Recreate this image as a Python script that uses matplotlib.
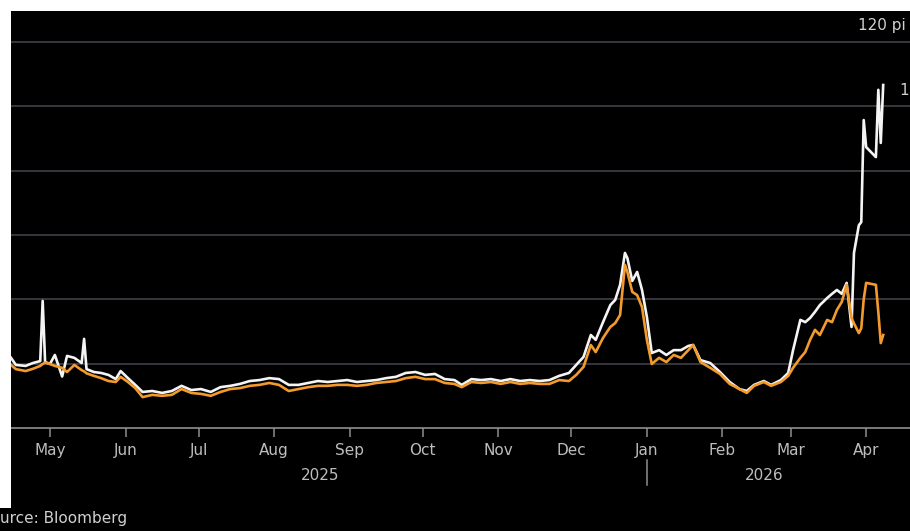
import matplotlib
matplotlib.use("Agg")
import matplotlib.pyplot as plt
import matplotlib.dates as mdates
import matplotlib.transforms as mtransforms
from matplotlib.patches import Rectangle
import pandas as pd


dates = [
    "2025-04-15", "2025-04-17", "2025-04-21", "2025-04-24", "2025-04-27", "2025-04-28",
    "2025-04-29", "2025-05-01", "2025-05-03", "2025-05-06", "2025-05-08", "2025-05-11",
    "2025-05-14", "2025-05-15", "2025-05-16", "2025-05-19", "2025-05-22", "2025-05-25",
    "2025-05-28", "2025-05-30", "2025-06-02", "2025-06-05", "2025-06-08", "2025-06-12",
    "2025-06-16", "2025-06-20", "2025-06-24", "2025-06-28", "2025-07-02", "2025-07-06",
    "2025-07-10", "2025-07-14", "2025-07-18", "2025-07-22", "2025-07-26", "2025-07-30",
    "2025-08-03", "2025-08-07", "2025-08-11", "2025-08-15", "2025-08-19", "2025-08-23",
    "2025-08-27", "2025-08-31", "2025-09-04", "2025-09-08", "2025-09-12", "2025-09-16",
    "2025-09-20", "2025-09-24", "2025-09-28", "2025-10-02", "2025-10-06", "2025-10-10",
    "2025-10-14", "2025-10-17", "2025-10-21", "2025-10-25", "2025-10-29", "2025-11-02",
    "2025-11-06", "2025-11-10", "2025-11-14", "2025-11-18", "2025-11-22", "2025-11-26",
    "2025-11-30", "2025-12-03", "2025-12-06", "2025-12-09", "2025-12-11", "2025-12-14",
    "2025-12-17", "2025-12-19", "2025-12-21", "2025-12-23", "2025-12-24", "2025-12-26",
    "2025-12-28", "2025-12-30", "2026-01-01", "2026-01-03", "2026-01-06", "2026-01-09",
    "2026-01-12", "2026-01-15", "2026-01-18", "2026-01-20", "2026-01-23", "2026-01-27",
    "2026-01-31", "2026-02-04", "2026-02-08", "2026-02-11", "2026-02-14", "2026-02-18",
    "2026-02-21", "2026-02-25", "2026-02-28", "2026-03-02", "2026-03-05", "2026-03-07",
    "2026-03-09", "2026-03-11", "2026-03-13", "2026-03-16", "2026-03-18", "2026-03-20",
    "2026-03-22", "2026-03-24", "2026-03-26", "2026-03-27", "2026-03-29", "2026-03-30",
    "2026-03-31", "2026-04-01", "2026-04-05", "2026-04-06", "2026-04-07", "2026-04-08",
]

white_series = [
    21.8, 19.6, 19.3, 20.2, 20.8, 39.5,
    20.5, 19.9, 22.7, 16.0, 22.4, 21.8,
    20.2, 27.7, 18.3, 17.4, 17.1, 16.5,
    15.2, 17.7, 15.5, 13.4, 11.2, 11.5,
    10.9, 11.5, 13.1, 11.8, 12.1, 11.2,
    12.7, 13.1, 13.7, 14.6, 14.9, 15.5,
    15.2, 13.4, 13.4, 14.0, 14.6, 14.3,
    14.6, 14.9, 14.3, 14.6, 14.9, 15.5,
    15.9, 17.1, 17.4, 16.5, 16.8, 15.2,
    14.9, 13.4, 15.2, 14.9, 15.2, 14.6,
    15.2, 14.6, 14.9, 14.6, 14.9, 16.2,
    17.1, 19.6, 22.1, 28.9, 27.4, 32.9,
    38.2, 39.8, 44.5, 54.4, 52.8, 45.7,
    48.5, 42.9, 34.5, 23.3, 24.2, 22.7,
    24.2, 24.2, 25.5, 25.8, 21.1, 20.2,
    17.4, 14.3, 12.1, 11.5, 13.4, 14.6,
    13.4, 14.9, 17.1, 24.2, 33.6, 32.9,
    34.2, 36.1, 38.2, 40.4, 41.7, 42.9,
    41.7, 45.1, 31.4, 54.4, 63.0, 64.0,
    95.7, 87.3, 84.2, 105.1, 88.6, 106.6,
]

orange_series = [
    19.6, 18.3, 17.7, 18.4, 19.3, 19.9,
    20.3, 19.9, 19.3, 18.7, 17.4, 19.6,
    18.0, 17.6, 17.0, 16.2, 15.5, 14.6,
    14.3, 15.9, 14.3, 12.4, 9.6, 10.3,
    10.0, 10.3, 12.1, 10.9, 10.6, 10.0,
    11.2, 12.1, 12.4, 13.1, 13.4, 14.0,
    13.4, 11.5, 12.1, 12.7, 13.1, 13.1,
    13.4, 13.4, 13.1, 13.4, 14.0, 14.3,
    14.6, 15.5, 15.9, 15.2, 15.2, 14.0,
    13.7, 12.7, 14.3, 14.0, 14.3, 13.7,
    14.3, 13.7, 14.0, 13.7, 13.7, 14.9,
    14.6, 16.5, 19.0, 25.8, 23.6, 28.0,
    31.4, 32.6, 35.1, 50.7, 48.5, 42.3,
    41.3, 37.6, 27.4, 19.9, 21.8, 20.5,
    22.7, 21.8, 24.2, 25.8, 20.5, 18.7,
    16.8, 13.7, 12.1, 10.9, 13.1, 14.3,
    13.1, 14.3, 16.2, 18.7, 21.8, 23.6,
    27.4, 30.5, 28.9, 33.6, 32.9, 36.7,
    39.2, 44.5, 34.2, 32.5, 29.5, 31.0,
    40.0, 45.1, 44.5, 36.0, 26.4, 28.9,
]

y_ticks = [20, 40, 60, 80, 100, 120]
# visible parts of the right-hand labels (the rest is cropped in the original)
y_labels = [(120, "120 pi"), (100, "1")]
year_labels = [("2025", "2025-08-20"), ("2026", "2026-02-18")]

W, H = 910, 531
fig = plt.figure(figsize=(W / 100, H / 100), dpi=100, facecolor="black")

# white strips left over from the crop of the original
fig.patches.append(Rectangle((0, 1 - 11 / H), 1, 11 / H, transform=fig.transFigure,
                             facecolor="white", edgecolor="none", zorder=0))
fig.patches.append(Rectangle((0, 23 / H), 11 / W, 1, transform=fig.transFigure,
                             facecolor="white", edgecolor="none", zorder=0))

ax = fig.add_axes([11 / W, (H - 428) / H, 1 - 11 / W, 417 / H])
ax.set_facecolor("black")

x = pd.to_datetime(dates)
ax.plot(x, white_series, color="#f4f4f4", lw=1.9, zorder=3, solid_joinstyle="round")
ax.plot(x, orange_series, color="#f39a2c", lw=1.9, zorder=4, solid_joinstyle="round")

ax.set_xlim(pd.Timestamp("2025-04-15"), pd.Timestamp("2026-04-19"))
ax.set_ylim(0, 129.6)

for v in y_ticks:
    ax.axhline(v, color="#3a3a42", lw=1.3, zorder=1)
ax.set_yticks([])

for s in ["top", "right", "left"]:
    ax.spines[s].set_visible(False)
ax.spines["bottom"].set_color("#8f8f8f")
ax.spines["bottom"].set_linewidth(1.2)

ax.xaxis.set_major_locator(mdates.MonthLocator())
ax.xaxis.set_major_formatter(mdates.DateFormatter("%b"))
ax.tick_params(axis="x", colors="#8f8f8f", length=6.5, width=1.1, pad=4,
               labelsize=11, labelcolor="#bdbdbd")

# y labels sit just above their gridline, at the right edge
ylab_trans = mtransforms.blended_transform_factory(fig.transFigure, ax.transData)
ax.text(906 / W, y_labels[0][0] + 5.0, y_labels[0][1], transform=ylab_trans,
        color="#d0d0d0", fontsize=11, ha="right", va="center")
ax.text(899 / W, y_labels[1][0] + 5.0, y_labels[1][1], transform=ylab_trans,
        color="#d0d0d0", fontsize=11, ha="left", va="center")

trans = mtransforms.blended_transform_factory(ax.transData, ax.transAxes)
for label, center in year_labels:
    ax.text(pd.Timestamp(center), -0.113, label, transform=trans, ha="center",
            va="center", color="#bdbdbd", fontsize=11)
ax.plot([pd.Timestamp("2026-01-01")] * 2, [-0.077, -0.137], transform=trans,
        color="#8f8f8f", lw=1.1, clip_on=False)

fig.text(0.5 / W, 1 - 519 / H, "urce: Bloomberg", color="#d0d0d0",
         fontsize=11, ha="left", va="center")

fig.savefig("out.png", dpi=100, facecolor="black")
